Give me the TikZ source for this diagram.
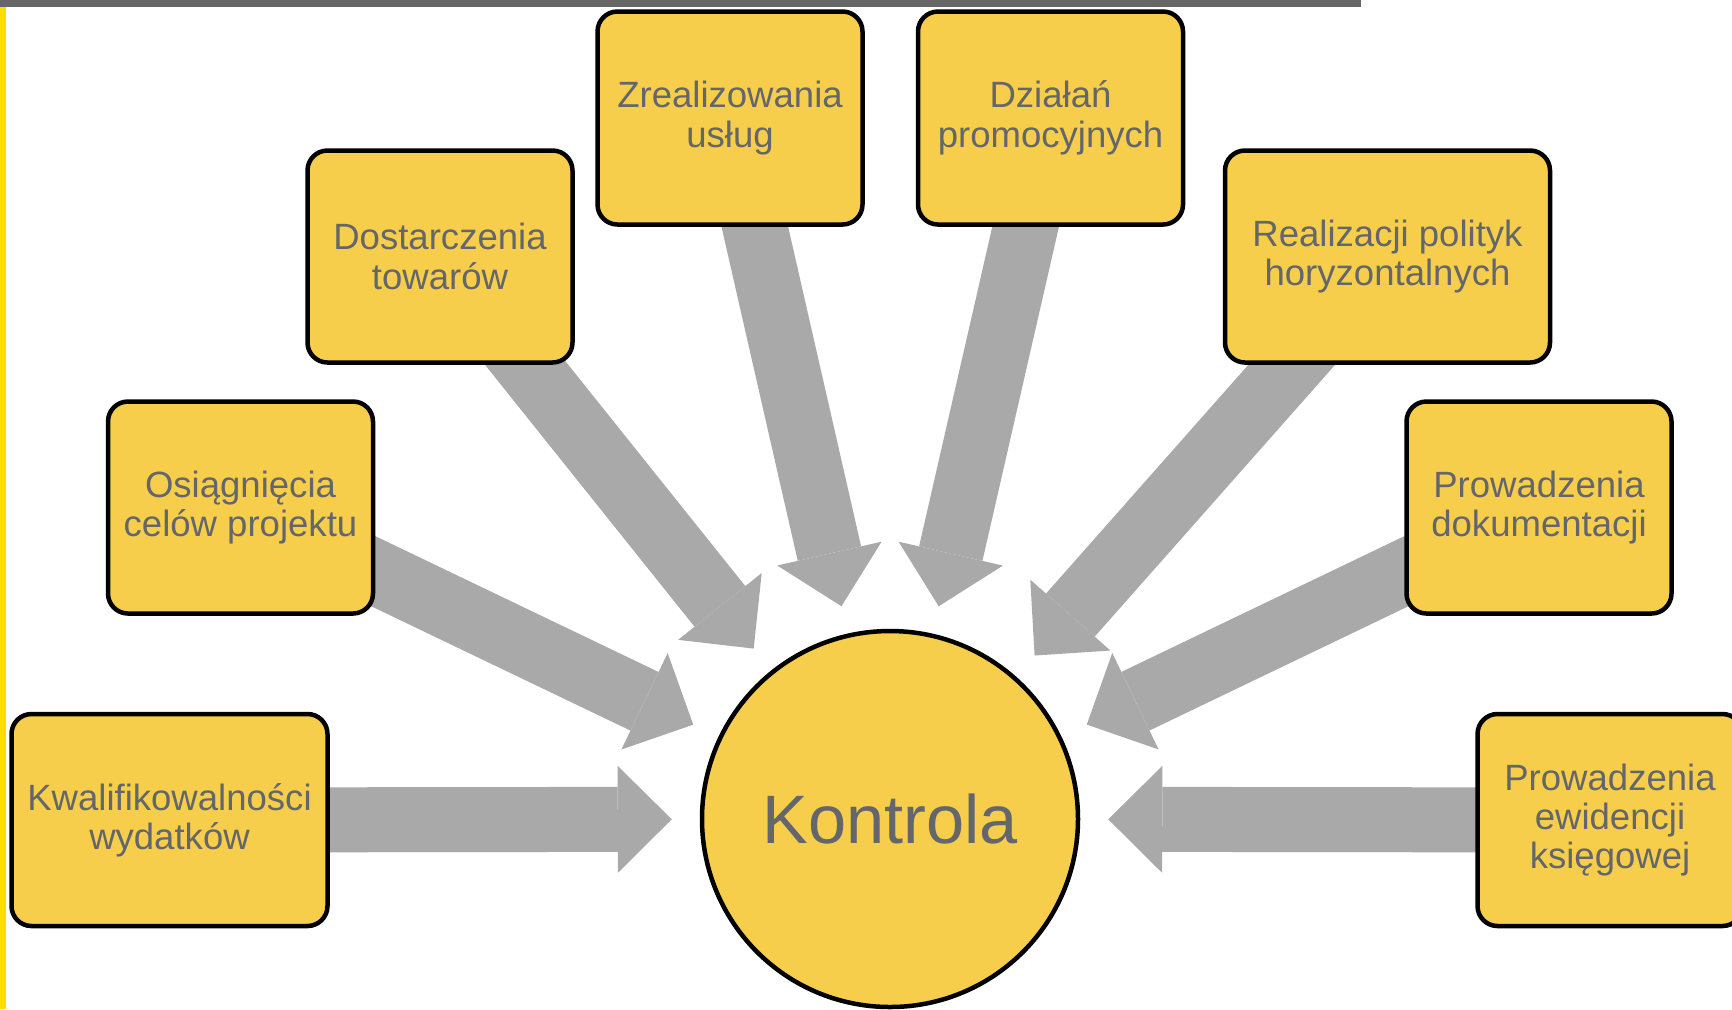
\documentclass[tikz,border=0pt]{standalone}
\usepackage{fontspec}
\setmainfont{Liberation Sans}
\usetikzlibrary{shapes,arrows.meta,backgrounds}
\definecolor{boxyellow}{RGB}{247,206,75}
\definecolor{textgray}{RGB}{99,102,106}
\definecolor{arrowgray}{RGB}{169,169,169}
\definecolor{bargray}{RGB}{102,102,102}
\definecolor{edgeyellow}{RGB}{255,221,0}

\tikzset{
  item/.style={draw=black, line width=0.045cm, fill=boxyellow, rounded corners=0.2cm,
    minimum width=2.65cm, minimum height=2.12cm, align=center, text=textgray,
    inner sep=0pt, font=\fontsize{10.4}{11.2}\selectfont},
  bigarrow/.style={arrowgray, line width=0.65cm, shorten >=0.28cm,
    -{Triangle[length=0.54cm, width=1.07cm, line width=0pt]}}
}

\begin{document}
\begin{tikzpicture}[scale=1.0]
  \useasboundingbox (0,0) rectangle (17.32,-10.09);

  % Frame
  \fill[bargray] (0,0) rectangle (13.61,-0.07);
  \fill[edgeyellow] (0,-0.07) rectangle (0.06,-10.09);

  % Centre
  \node[item, circle, minimum size=3.76cm, font=\fontsize{19.5}{22}\selectfont]
    (kontrola) at (8.90,-8.19) {Kontrola};

  % Boxes
  \node[item, minimum width=3.16cm] (kwal) at (1.695,-8.20) {Kwalifikowalności\\wydatków};
  \node[item] (osiag) at (2.405,-5.075) {Osiągnięcia\\celów projektu};
  \node[item] (dostar) at (4.40,-2.565) {Dostarczenia\\towarów};
  \node[item, minimum height=2.13cm] (uslug) at (7.30,-1.18) {Zrealizowania\\usług};
  \node[item, minimum height=2.13cm] (promo) at (10.505,-1.18) {Działań\\promocyjnych};
  \node[item, minimum width=3.25cm] (polit) at (13.875,-2.565) {Realizacji polityk\\horyzontalnych};
  \node[item] (dokum) at (15.39,-5.075) {Prowadzenia\\dokumentacji};
  \node[item] (ewid) at (16.10,-8.20) {Prowadzenia\\ewidencji\\księgowej};

  % Arrows
  \begin{scope}[on background layer]
    \foreach \src in {kwal,osiag,dostar,uslug,promo,polit,dokum,ewid}
      \draw[bigarrow] (\src.center) -- (kontrola);
  \end{scope}
\end{tikzpicture}
\end{document}
